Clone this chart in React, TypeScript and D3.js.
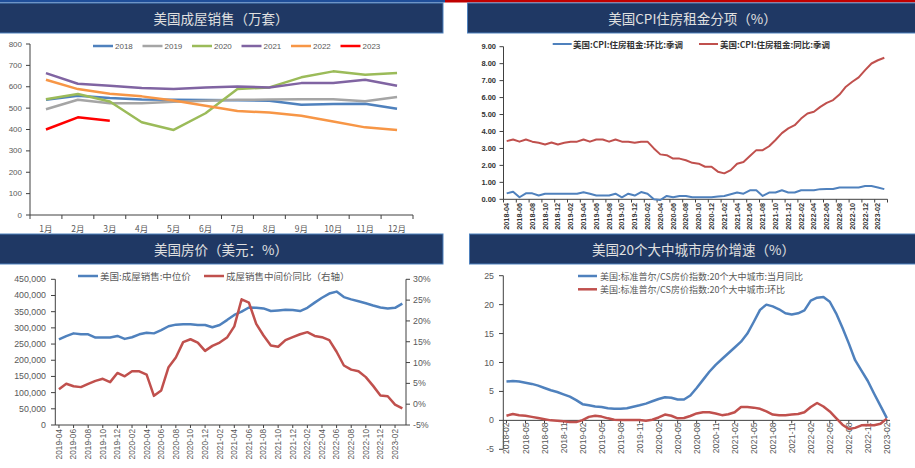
import React from 'react';
import * as d3 from 'd3';

// ---------- Data ----------
const monthNames = ['1月', '2月', '3月', '4月', '5月', '6月', '7月', '8月', '9月', '10月', '11月', '12月'];
const salesYears = ['2018', '2019', '2020', '2021', '2022', '2023'];
const sales2018 = [539, 558, 547, 540, 539, 538, 537, 535, 516, 519, 520, 497];
const sales2019 = [495, 539, 523, 523, 530, 535, 539, 540, 542, 542, 532, 552];
const sales2020 = [542, 566, 531, 434, 398, 476, 589, 597, 644, 672, 656, 664];
const sales2021 = [664, 614, 605, 594, 589, 597, 601, 597, 617, 617, 633, 605];
const sales2022 = [633, 589, 567, 555, 536, 511, 487, 479, 464, 437, 410, 398];
const sales2023 = [400, 457, 441];
const salesTicks = [0, 100, 200, 300, 400, 500, 600, 700, 800];

function monthRange(year: number, month: number, count: number): string[] {
  const out: string[] = [];
  let y = year, m = month;
  for (let i = 0; i < count; i++) {
    out.push(`${y}-${m < 10 ? '0' + m : m}`);
    m++;
    if (m > 12) { m = 1; y++; }
  }
  return out;
}

const cpiMonths = monthRange(2018, 4, 60);
const cpiMoM = [
  0.35, 0.45, 0.12, 0.35, 0.35, 0.22, 0.33, 0.33, 0.33,
  0.33, 0.33, 0.33, 0.42, 0.33, 0.22, 0.22, 0.22, 0.33, 0.12, 0.33, 0.22,
  0.43, 0.33, 0.00, -0.04, 0.20, 0.12, 0.20, 0.20, 0.12, 0.12, 0.12, 0.12,
  0.16, 0.20, 0.30, 0.40, 0.33, 0.53, 0.53, 0.20, 0.40, 0.40, 0.53, 0.40,
  0.40, 0.53, 0.53, 0.53, 0.60, 0.61, 0.61, 0.70, 0.70, 0.70, 0.70, 0.78,
  0.78, 0.70, 0.60,
];
const cpiYoY = [
  3.43, 3.53, 3.40, 3.53, 3.40, 3.33, 3.23, 3.35, 3.23,
  3.33, 3.40, 3.40, 3.53, 3.40, 3.53, 3.53, 3.40, 3.53, 3.40, 3.40, 3.33,
  3.40, 3.40, 3.00, 2.65, 2.60, 2.40, 2.40, 2.30, 2.15, 2.10, 1.92, 1.92,
  1.63, 1.53, 1.72, 2.10, 2.20, 2.55, 2.90, 2.90, 3.13, 3.50, 3.90, 4.18,
  4.37, 4.76, 5.06, 5.16, 5.45, 5.69, 5.85, 6.18, 6.64, 6.93, 7.19, 7.62,
  8.01, 8.20, 8.35,
];
const cpiTicks = [0, 1, 2, 3, 4, 5, 6, 7, 8, 9];

const priceMonths = monthRange(2019, 4, 48);
const medianPrice = [
  264400, 274700, 283000, 280000, 280000, 270000, 270000, 270000, 275000, 266000,
  271000, 280000, 285000, 283000, 293000, 305000, 310000, 311000, 311000, 309000,
  309000, 302000, 309000, 324000, 340000, 350000, 363000, 362000, 360000, 352000,
  354000, 356000, 355000, 352000, 362000, 378000, 393000, 406000, 412000, 395000,
  388000, 382000, 376000, 369000, 363000, 360000, 362000, 375000,
];
const priceYoY = [
  3.6, 4.9, 4.3, 4.1, 4.9, 5.6, 6.1, 5.3, 7.5, 6.7,
  7.9, 7.9, 7.1, 2.0, 3.3, 8.9, 11.2, 14.9, 15.6, 14.8,
  12.8, 14.0, 14.8, 16.0, 18.7, 25.2, 24.4, 19.3, 16.5, 14.1,
  13.8, 15.4, 16.1, 16.8, 17.3, 16.4, 16.1, 15.4, 12.6, 9.3,
  8.3, 7.9, 6.5, 4.4, 2.1, 1.9, -0.1, -1.0,
];
const priceTicksL = [0, 50000, 100000, 150000, 200000, 250000, 300000, 350000, 400000, 450000];
const priceTicksR = [-5, 0, 5, 10, 15, 20, 25, 30];

const csMonths = monthRange(2018, 2, 61);
const csYoY = [
  6.7, 6.8, 6.7, 6.5, 6.3, 6.0, 5.6, 5.2, 4.9, 4.5,
  4.1, 3.5, 2.8, 2.6, 2.4, 2.3, 2.1, 2.0, 2.0, 2.1,
  2.35, 2.6, 2.9, 3.3, 3.7, 4.0, 3.9, 3.6, 3.6, 4.3,
  5.6, 7.0, 8.4, 9.6, 10.6, 11.6, 12.6, 13.6, 15.0, 17.0,
  19.1, 20.0, 19.7, 19.2, 18.5, 18.3, 18.5, 19.0, 20.7, 21.2,
  21.3, 20.5, 18.5, 16.0, 13.3, 10.4, 8.6, 6.8, 4.6, 2.5,
  0.4,
];
const csMoM = [
  0.8, 1.1, 0.9, 0.8, 0.6, 0.4, 0.2, 0.0, -0.05, -0.15,
  -0.3, -0.3, 0.05, 0.6, 0.8, 0.65, 0.35, 0.1, 0.05, 0.05,
  0.05, 0.05, -0.05, 0.1, 0.5, 1.0, 0.8, 0.35, 0.4, 0.75,
  1.2, 1.4, 1.4, 1.2, 0.9, 1.05, 1.4, 2.3, 2.3, 2.2,
  2.0, 1.55, 1.0, 0.9, 0.9, 1.0, 1.1, 1.4, 2.3, 3.0,
  2.4, 1.55, 0.4, -0.75, -1.5, -1.3, -0.85, -0.8, -0.85, -0.6,
  0.3,
];
const csTicks = [-5, 0, 5, 10, 15, 20, 25];

// ---------- Styles ----------
const CJK = '"Noto Sans CJK SC", "Noto Sans", sans-serif';
const NUM = '"Liberation Sans", Arial, sans-serif';
const TXT = '#595959';
const AX = '#404040';
const BAR = '#1f3864';
const BLUE = '#4f81bd';
const RED = '#c0504d';

function TitleBar({ x, y, w, text }: { x: number; y: number; w: number; text: string }) {
  return (
    <g>
      <rect x={x} y={y} width={w} height={30} fill={BAR} stroke="#4f81bd" strokeWidth={1} />
      <text x={x + w / 2} y={y + 15} textAnchor="middle" dominantBaseline="central" fill="#e0e0e0"
        fontFamily={CJK} fontSize={13.5}>{text}</text>
    </g>
  );
}

function SalesPanel() {
  const x = d3.scaleBand<string>().domain(monthNames).range([30, 413]);
  const y = d3.scaleLinear().domain([0, 800]).range([215, 44]);
  const bw = x.bandwidth();
  const line = d3.line<number>().x((_, i) => (x(monthNames[i]) as number) + bw / 2).y((d) => y(d));
  const series = [sales2018, sales2019, sales2020, sales2021, sales2022, sales2023];
  const colors = ['#4f81bd', '#a5a5a5', '#9bbb59', '#8064a2', '#f79646', '#ff0000'];
  return (
    <g>
      {salesTicks.map((t) => (
        <g key={t}>
          <line x1={26} x2={30} y1={y(t)} y2={y(t)} stroke={AX} />
          <text x={22} y={y(t)} textAnchor="end" dominantBaseline="central" fontFamily={NUM} fontSize={8} fill={TXT}>{t}</text>
        </g>
      ))}
      <line x1={30} x2={30} y1={44} y2={215} stroke={AX} />
      <line x1={30} x2={413} y1={215} y2={215} stroke={AX} />
      {monthNames.map((m) => (
        <g key={m}>
          <line x1={x(m) as number} x2={x(m) as number} y1={215} y2={219} stroke={AX} />
          <text x={(x(m) as number) + bw / 2} y={228} textAnchor="middle" dominantBaseline="central" fontFamily={CJK} fontSize={8.5} fill={TXT}>{m}</text>
        </g>
      ))}
      <line x1={413} x2={413} y1={215} y2={219} stroke={AX} />
      {series.map((s, i) => (
        <path key={i} d={line(s) as string} fill="none" stroke={colors[i]} strokeWidth={2.5} strokeLinejoin="round" />
      ))}
      {salesYears.map((yr, i) => {
        const lx = 93 + i * 49.5;
        return (
          <g key={yr}>
            <line x1={lx} x2={lx + 20} y1={46} y2={46} stroke={colors[i]} strokeWidth={2.5} />
            <text x={lx + 22} y={46} dominantBaseline="central" fontFamily={NUM} fontSize={8} fill={TXT}>{yr}</text>
          </g>
        );
      })}
    </g>
  );
}

function CpiPanel() {
  const x = d3.scaleBand<string>().domain(cpiMonths).range([503.5, 887.5]);
  const y = d3.scaleLinear().domain([0, 9]).range([199.3, 46.7]);
  const bw = x.bandwidth();
  const cx = (i: number) => (x(cpiMonths[i]) as number) + bw / 2;
  const line = d3.line<number>().x((_, i) => cx(i)).y((d) => y(d));
  return (
    <g>
      {cpiTicks.map((t) => (
        <g key={t}>
          <line x1={499.5} x2={503.5} y1={y(t)} y2={y(t)} stroke={AX} />
          <text x={496} y={y(t)} textAnchor="end" dominantBaseline="central" fontFamily={NUM} fontWeight="bold" fontSize={7.5} fill="#333">{t.toFixed(2)}</text>
        </g>
      ))}
      <line x1={503.5} x2={503.5} y1={46.7} y2={199.3} stroke={AX} />
      <line x1={503.5} x2={887.5} y1={199.3} y2={199.3} stroke={AX} />
      {cpiMonths.map((m, i) => i % 2 === 0 ? (
        <g key={m}>
          <line x1={x(m) as number} x2={x(m) as number} y1={199.3} y2={202.5} stroke={AX} />
          <text transform={`translate(${cx(i)},203) rotate(-90)`} textAnchor="end" dy="0.35em" fontFamily={NUM} fontWeight="bold" fontSize={7.3} fill="#333">{m}</text>
        </g>
      ) : null)}
      <line x1={887.5} x2={887.5} y1={199.3} y2={202.5} stroke={AX} />
      <path d={line(cpiMoM) as string} fill="none" stroke={BLUE} strokeWidth={2} strokeLinejoin="round" />
      <path d={line(cpiYoY) as string} fill="none" stroke={RED} strokeWidth={2} strokeLinejoin="round" />
      <line x1={552.7} x2={571.7} y1={44} y2={44} stroke={BLUE} strokeWidth={2} />
      <text x={573} y={44} dominantBaseline="central" fontFamily={CJK} fontWeight="bold" fontSize={8.5} fill="#333">美国:CPI:住房租金:环比:季调</text>
      <line x1={699} x2={718} y1={44} y2={44} stroke={RED} strokeWidth={2} />
      <text x={720} y={44} dominantBaseline="central" fontFamily={CJK} fontWeight="bold" fontSize={8.5} fill="#333">美国:CPI:住房租金:同比:季调</text>
    </g>
  );
}

function PricePanel() {
  const x = d3.scaleBand<string>().domain(priceMonths).range([55.3, 406]);
  const yL = d3.scaleLinear().domain([0, 450000]).range([425, 279.3]);
  const yR = d3.scaleLinear().domain([-5, 30]).range([425, 279.3]);
  const bw = x.bandwidth();
  const cx = (i: number) => (x(priceMonths[i]) as number) + bw / 2;
  const lineL = d3.line<number>().x((_, i) => cx(i)).y((d) => yL(d));
  const lineR = d3.line<number>().x((_, i) => cx(i)).y((d) => yR(d));
  const fmt = d3.format(',');
  return (
    <g>
      {priceTicksL.map((t) => (
        <g key={t}>
          <line x1={51} x2={55.3} y1={yL(t)} y2={yL(t)} stroke={AX} />
          <text x={46} y={yL(t)} textAnchor="end" dominantBaseline="central" fontFamily={NUM} fontSize={8.8} fill={TXT}>{fmt(t)}</text>
        </g>
      ))}
      {priceTicksR.map((t) => (
        <g key={t}>
          <line x1={406} x2={410} y1={yR(t)} y2={yR(t)} stroke={AX} />
          <text x={413} y={yR(t)} dominantBaseline="central" fontFamily={NUM} fontSize={8.8} fill={TXT}>{t + '%'}</text>
        </g>
      ))}
      <line x1={55.3} x2={55.3} y1={279.3} y2={425} stroke={AX} />
      <line x1={406} x2={406} y1={279.3} y2={425} stroke={AX} />
      <line x1={55.3} x2={406} y1={425} y2={425} stroke={AX} />
      {priceMonths.map((m, i) => i % 2 === 0 ? (
        <g key={m}>
          <line x1={cx(i)} x2={cx(i)} y1={425} y2={428} stroke={AX} />
          <text transform={`translate(${cx(i)},429) rotate(-90)`} textAnchor="end" dy="0.35em" fontFamily={NUM} fontSize={8.3} fill={TXT}>{m}</text>
        </g>
      ) : null)}
      <path d={lineL(medianPrice) as string} fill="none" stroke={BLUE} strokeWidth={2.5} strokeLinejoin="round" />
      <path d={lineR(priceYoY) as string} fill="none" stroke={RED} strokeWidth={2.5} strokeLinejoin="round" />
      <line x1={78} x2={98} y1={276} y2={276} stroke={BLUE} strokeWidth={2.5} />
      <text x={100} y={276} dominantBaseline="central" fontFamily={CJK} fontSize={9.5} fill={TXT}>美国:成屋销售:中位价</text>
      <line x1={204} x2={224} y1={276} y2={276} stroke={RED} strokeWidth={2.5} />
      <text x={226} y={276} dominantBaseline="central" fontFamily={CJK} fontSize={9.5} fill={TXT}>成屋销售中间价同比（右轴）</text>
    </g>
  );
}

function CsPanel() {
  const x = d3.scaleBand<string>().domain(csMonths).range([503.3, 890]);
  const y = d3.scaleLinear().domain([-5, 25]).range([449.3, 275.7]);
  const bw = x.bandwidth();
  const cx = (i: number) => (x(csMonths[i]) as number) + bw / 2;
  const line = d3.line<number>().x((_, i) => cx(i)).y((d) => y(d));
  return (
    <g>
      {csTicks.map((t) => (
        <g key={t}>
          <line x1={499} x2={503.3} y1={y(t)} y2={y(t)} stroke={AX} />
          <text x={494} y={y(t)} textAnchor="end" dominantBaseline="central" fontFamily={NUM} fontSize={8.8} fill={TXT}>{t}</text>
        </g>
      ))}
      <line x1={503.3} x2={503.3} y1={275.7} y2={449.3} stroke={AX} />
      <line x1={503.3} x2={890} y1={y(0)} y2={y(0)} stroke={AX} />
      {csMonths.map((m, i) => i % 3 === 0 ? (
        <g key={m}>
          <line x1={cx(i)} x2={cx(i)} y1={y(0)} y2={y(0) + 3} stroke={AX} />
          <text transform={`translate(${cx(i)},${y(0) + 2}) rotate(-90)`} textAnchor="end" dy="0.35em" fontFamily={NUM} fontSize={8.6} fill={TXT}>{m}</text>
        </g>
      ) : null)}
      <path d={line(csYoY) as string} fill="none" stroke={BLUE} strokeWidth={2.5} strokeLinejoin="round" />
      <path d={line(csMoM) as string} fill="none" stroke={RED} strokeWidth={2.5} strokeLinejoin="round" />
      <line x1={578} x2={597} y1={276} y2={276} stroke={BLUE} strokeWidth={2.5} />
      <text x={600} y={276} dominantBaseline="central" fontFamily={CJK} fontSize={9} fill={TXT}>美国:标准普尔/CS房价指数:20个大中城市:当月同比</text>
      <line x1={578} x2={597} y1={289.3} y2={289.3} stroke={RED} strokeWidth={2.5} />
      <text x={600} y={289.3} dominantBaseline="central" fontFamily={CJK} fontSize={9} fill={TXT}>美国:标准普尔/CS房价指数:20个大中城市:环比</text>
    </g>
  );
}

export default function App() {
  return (
    <svg width={915} height={468} viewBox="0 0 915 468"
      style={{ position: 'absolute', left: 0, top: 0, background: '#fff' }}>
      <rect x={0} y={0} width={915} height={468} fill="#fff" />
      <rect x={0} y={0} width={445} height={2.5} fill="#1f4e99" />
      <rect x={445} y={0} width={470} height={2.5} fill="#c00000" />
      <TitleBar x={-1} y={3} w={444} text="美国成屋销售（万套）" />
      <TitleBar x={467.5} y={3} w={450} text="美国CPI住房租金分项（%）" />
      <TitleBar x={-1} y={234} w={444} text="美国房价（美元：%）" />
      <TitleBar x={469.5} y={234} w={448} text="美国20个大中城市房价增速（%）" />
      <SalesPanel />
      <CpiPanel />
      <PricePanel />
      <CsPanel />
    </svg>
  );
}
